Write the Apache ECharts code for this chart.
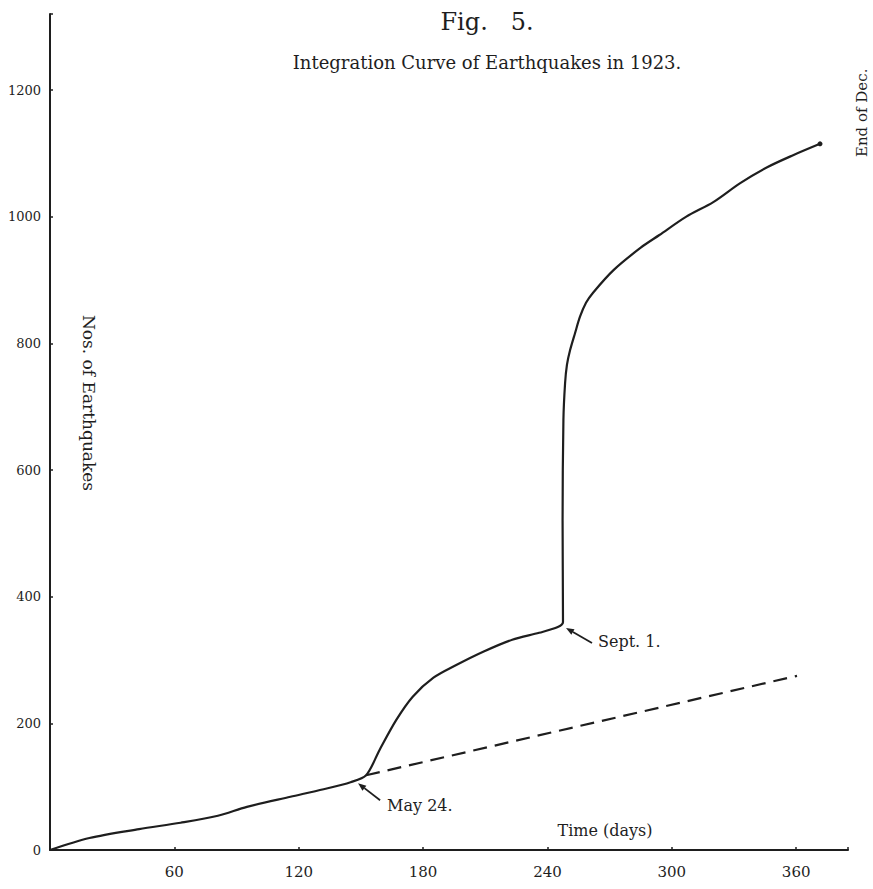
<!DOCTYPE html>
<html>
<head>
<meta charset="utf-8">
<script src="https://cdn.jsdelivr.net/npm/echarts@6/dist/echarts.min.js"></script>
<style>
html,body{margin:0;padding:0;background:#ffffff;}
#c{width:873px;height:889px;}
</style>
</head>
<body>
<div id="c"></div>
<script>
// ---- data ----
const dayValues   = [0, 19, 43, 63, 81, 95, 116, 132, 145, 152.5, 159, 167, 175, 185, 196, 209, 223, 236, 245, 247.5, 247.3, 247.7, 248.5, 249.4, 250.9, 253.3, 255.7, 258.6, 262, 272, 285, 294, 307, 320, 333, 346, 358.5, 371.5];
const quakeTotals = [0, 19, 33, 43, 54, 68, 84, 96, 107, 118, 158, 205, 242, 272, 292, 313, 332, 343, 352, 360, 520, 679, 737, 766, 789, 816, 842, 864, 880, 916, 951, 971, 1000, 1023, 1053, 1078, 1097, 1115];
const trendDays   = [152.5, 360.4];
const trendTotals = [118, 275];
const xTickLabels = [60, 120, 180, 240, 300, 360];
const yTickLabels = [0, 200, 400, 600, 800, 1000, 1200];
const eventLabels = ['May 24.', 'Sept. 1.'];
const eventDays   = [152.5, 247.5];
const eventTotals = [118, 360];
const titleText    = 'Fig.   5.';
const subtitleText = 'Integration Curve of Earthquakes in 1923.';
const yAxisTitle   = 'Nos. of Earthquakes';
const xAxisTitle   = 'Time (days)';
const sideNote     = 'End of Dec.';

const INK = '#1e1e1e';
const FONT = "'DejaVu Serif', 'Liberation Serif', serif";

const chart = echarts.init(document.getElementById('c'), null, {renderer: 'svg'});

const mainData = dayValues.map((d, i) => {
  const item = {value: [d, quakeTotals[i]]};
  if (i === dayValues.length - 1) { item.symbol = 'circle'; item.symbolSize = 5; }
  return item;
});

chart.setOption({
  backgroundColor: '#ffffff',
  animation: false,
  title: {
    text: titleText,
    subtext: subtitleText,
    left: 482,
    textAlign: 'center',
    top: 5,
    itemGap: 19,
    textStyle: {fontFamily: FONT, fontSize: 24, fontWeight: 'normal', color: INK},
    subtextStyle: {fontFamily: FONT, fontSize: 18, color: INK}
  },
  grid: {left: 50, right: 25, top: 14, bottom: 39, containLabel: false, outerBoundsMode: 'none'},
  xAxis: {
    type: 'value', min: 0, max: 385, interval: 60,
    axisLine: {show: true, lineStyle: {color: INK, width: 2}},
    axisTick: {show: true, inside: true, length: 3, lineStyle: {color: INK, width: 1.5}},
    splitLine: {show: false},
    axisLabel: {
      margin: 14, fontFamily: FONT, fontSize: 15, color: INK,
      formatter: v => (xTickLabels.indexOf(v) >= 0 ? String(v) : '')
    }
  },
  yAxis: {
    type: 'value', min: 0, max: 1320, interval: 200,
    axisLine: {show: true, lineStyle: {color: INK, width: 2}},
    axisTick: {show: true, inside: true, length: 3, lineStyle: {color: INK, width: 1.5}},
    splitLine: {show: false},
    axisLabel: {
      margin: 9, fontFamily: FONT, fontSize: 13, color: INK,
      formatter: v => (yTickLabels.indexOf(v) >= 0 ? String(v) : '')
    }
  },
  series: [
    {
      type: 'line', data: mainData, symbol: 'none', showSymbol: true, smooth: 0.3,
      itemStyle: {color: INK},
      lineStyle: {color: INK, width: 2.2},
      z: 3
    },
    {
      type: 'line', data: trendDays.map((d, i) => [d, trendTotals[i]]), symbol: 'none',
      lineStyle: {color: INK, width: 2.2, type: [14, 8]},
      z: 2
    }
  ]
});

// ---- annotations anchored to data points ----
const anchor = [ // pixel offsets relative to each event point: tip, tail, text
  {tip: [-8, 8], tail: [14, 25], text: [21, 30]},
  {tip: [3, 6], tail: [29, 21], text: [35, 19]}
];
const graphics = [];
eventLabels.forEach((lab, i) => {
  const p = chart.convertToPixel({gridIndex: 0}, [eventDays[i], eventTotals[i]]);
  const a = anchor[i];
  const tx = p[0] + a.tip[0], ty = p[1] + a.tip[1];
  const sx = p[0] + a.tail[0], sy = p[1] + a.tail[1];
  const dx = tx - sx, dy = ty - sy, L = Math.sqrt(dx * dx + dy * dy);
  const ux = dx / L, uy = dy / L;
  const hl = 8, hw = 3.2;
  const bx = tx - ux * hl, by = ty - uy * hl;
  graphics.push({type: 'line', shape: {x1: sx, y1: sy, x2: bx, y2: by}, style: {stroke: INK, lineWidth: 1.8}, z: 10});
  graphics.push({type: 'polygon', shape: {points: [[tx, ty], [bx - uy * hw, by + ux * hw], [bx + uy * hw, by - ux * hw]]}, style: {fill: INK}, z: 10});
  graphics.push({type: 'text', x: p[0] + a.text[0], y: p[1] + a.text[1], style: {text: lab, font: "16px 'DejaVu Serif', serif", fill: INK, textAlign: 'left', textVerticalAlign: 'middle'}, z: 10});
});
graphics.push({type: 'text', x: 605, y: 830, style: {text: xAxisTitle, font: "16px 'DejaVu Serif', serif", fill: INK, textAlign: 'center', textVerticalAlign: 'middle'}});
graphics.push({type: 'text', x: 89, y: 403, rotation: -Math.PI / 2, style: {text: yAxisTitle, font: "17px 'DejaVu Serif', serif", fill: INK, textAlign: 'center', textVerticalAlign: 'middle'}});
graphics.push({type: 'text', x: 862, y: 157, rotation: Math.PI / 2, style: {text: sideNote, font: "15px 'DejaVu Serif', serif", fill: INK, textAlign: 'left', textVerticalAlign: 'middle'}});
chart.setOption({graphic: graphics});
</script>
</body>
</html>
